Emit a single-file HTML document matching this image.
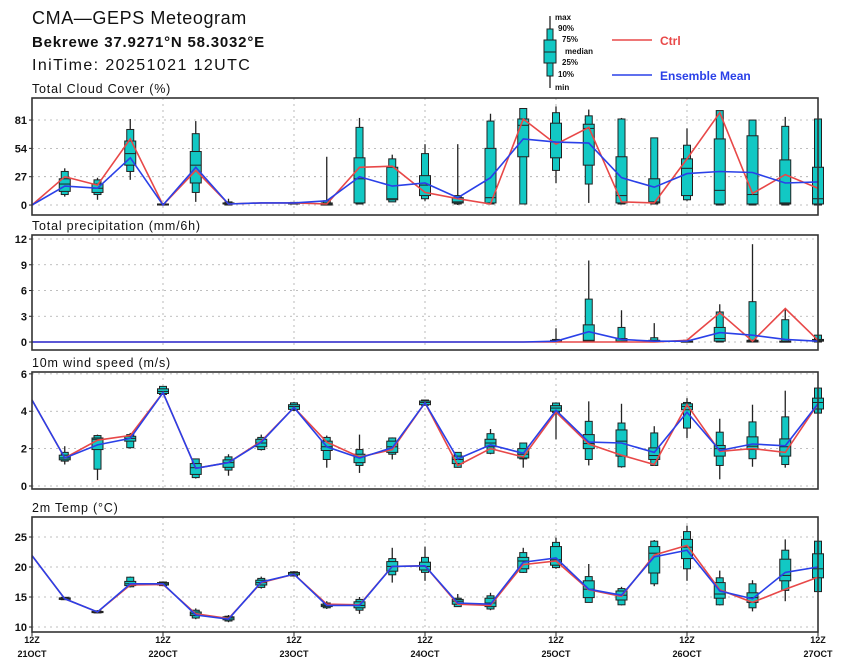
<!DOCTYPE html>
<html><head><meta charset="utf-8"><style>
html,body{margin:0;padding:0;background:#fff;}
svg{display:block;font-family:"Liberation Sans","DejaVu Sans",sans-serif;}
</style></head><body>
<svg id="chart" width="844" height="667" viewBox="0 0 844 667" xmlns="http://www.w3.org/2000/svg">
<text x="32" y="24" font-size="18" letter-spacing="0.6" fill="#111">CMA—GEPS Meteogram</text>
<text x="32" y="47" font-size="15" fill="#111" font-weight="bold" letter-spacing="0.8">Bekrewe 37.9271°N 58.3032°E</text>
<text x="32" y="70" font-size="16" fill="#111" letter-spacing="1.4">IniTime: 20251021 12UTC</text>
<g>
<g>
<line x1="550" y1="16" x2="550" y2="88" stroke="#222" stroke-width="1.3"/>
<rect x="547" y="29" width="6" height="47" fill="#12c8c4" stroke="#222"/>
<rect x="544" y="40" width="12" height="23" fill="#12c8c4" stroke="#222"/>
<line x1="544" y1="52" x2="556" y2="52" stroke="#222"/>
</g>
<g font-size="8" font-weight="bold" fill="#111">
<text x="555" y="20">max</text><text x="558" y="31">90%</text><text x="562" y="42">75%</text>
<text x="565" y="54">median</text><text x="562" y="65">25%</text><text x="558" y="77">10%</text><text x="555" y="90">min</text>
</g>
<line x1="612" y1="40" x2="652" y2="40" stroke="#e84848" stroke-width="1.5"/>
<text x="660" y="45" font-size="12" font-weight="bold" fill="#e84848">Ctrl</text>
<line x1="612" y1="75" x2="652" y2="75" stroke="#2a40e8" stroke-width="1.5"/>
<text x="660" y="80" font-size="12" font-weight="bold" fill="#2a40e8">Ensemble Mean</text>
</g>
</svg>
<script>
// Time axis
const steps = 25;
const dayLabelsTop = ["12Z","12Z","12Z","12Z","12Z","12Z","12Z"];
const dayLabelsBottom = ["21OCT","22OCT","23OCT","24OCT","25OCT","26OCT","27OCT"];

// Total cloud cover (%)
const cloudTicks = [0,27,54,81];
const cloudMin = [null,8,5,24,0,3,0,null,1,0,1,3,4,0,1,1,21,2,1,1,4,0,0,0,0];
const cloudP10 = [null,10,10,32,0,12,0,null,1,0,1,3,6,1,1,1,33,20,1,1,5,0,0,0,0];
const cloudP25 = [null,13,12,38,0,21,1,null,1.5,0,2,5,9,2,2,46,45,38,2,2,9,1,1,1,1];
const cloudMed = [null,20,16,49,0.5,38,1,null,2,1,25,6,19,3,7,76,60,73,9,3,35,14,10,2,6];
const cloudP75 = [null,25,20,61,1,51,2,null,2,2,45,36,28,7,54,82,78,77,46,25,44,63,66,43,36];
const cloudP90 = [null,32,24,72,1,68,3,null,2.5,4,74,44,49,9,80,92,88,85,82,64,57,90,81,75,82];
const cloudMax = [null,35,26,82,2,80,6,null,3,46,83,48,58,58,87,92,94,91,83,64,73,90,81,84,82];
const cloudCtrl = [0,27,19,63,0,33,1,2,2,1,36,37,12,6,1,82,58,74,3,2,44,88,11,29,16];
const cloudMean = [0,18,16,45,0,36,1,2,2,4,27,18,21,7,26,63,60,59,26,17,30,32,31,21,22];

// Total precipitation (mm/6h)
const precTicks = [0,3,6,9,12];
const precMin = [null,null,null,null,null,null,null,null,null,null,null,null,null,null,null,null,0,0,0,0,0,0,0,0,0];
const precP10 = [null,null,null,null,null,null,null,null,null,null,null,null,null,null,null,null,0,0,0,0,0,0,0,0,0];
const precP25 = [null,null,null,null,null,null,null,null,null,null,null,null,null,null,null,null,0,0.1,0,0,0,0.1,0,0,0.1];
const precMed = [null,null,null,null,null,null,null,null,null,null,null,null,null,null,null,null,0.1,0.2,0.1,0,0,0.4,0.1,0,0.2];
const precP75 = [null,null,null,null,null,null,null,null,null,null,null,null,null,null,null,null,0.2,2.0,0.4,0.2,0.1,1.7,0.2,0.1,0.3];
const precP90 = [null,null,null,null,null,null,null,null,null,null,null,null,null,null,null,null,0.3,5.0,1.7,0.5,0.2,3.5,4.7,2.6,0.8];
const precMax = [null,null,null,null,null,null,null,null,null,null,null,null,null,null,null,null,1.6,9.5,3.7,2.2,0.3,4.4,11.4,3.8,0.8];
const precCtrl = [0,0,0,0,0,0,0,0,0,0,0,0,0,0,0,0,0,0,0,0,0.2,3.4,0.1,3.9,0.2];
const precMean = [0,0,0,0,0,0,0,0,0,0,0,0,0,0,0,0,0.1,1.2,0.3,0.1,0.1,1.1,0.8,0.3,0.1];

// 10m wind speed (m/s)
const windTicks = [0,2,4,6];
const windMin = [null,1.15,0.32,2.0,4.9,0.4,0.55,1.9,4.0,0.98,0.7,1.42,4.3,0.98,1.7,0.98,2.5,1.1,0.98,1.1,2.57,0.36,1.03,0.98,3.9];
const windP10 = [null,1.33,0.9,2.05,4.9,0.45,0.85,1.95,4.05,1.42,1.1,1.7,4.32,1.0,1.75,1.45,3.94,1.42,1.03,1.1,3.1,1.1,1.46,1.15,3.9];
const windP25 = [null,1.4,1.95,2.4,4.95,0.62,1.0,2.1,4.1,1.9,1.25,1.8,4.35,1.2,2.1,1.5,4.0,2.0,1.6,1.42,4.08,1.6,1.95,1.6,4.12];
const windMed = [null,1.5,2.5,2.55,5.06,0.98,1.25,2.3,4.25,2.1,1.56,2.1,4.47,1.42,2.3,1.7,4.17,2.27,2.4,1.63,4.26,2.0,2.13,2.1,4.47];
const windP75 = [null,1.65,2.57,2.66,5.2,1.2,1.4,2.5,4.35,2.4,1.7,2.4,4.55,1.6,2.5,2.0,4.3,2.75,3.0,2.04,4.4,2.17,2.63,2.52,4.7];
const windP90 = [null,1.8,2.7,2.75,5.33,1.45,1.56,2.6,4.45,2.6,1.95,2.57,4.6,1.8,2.8,2.3,4.44,3.46,3.37,2.84,4.47,2.88,3.43,3.7,5.24];
const windMax = [null,2.13,2.75,2.84,5.35,1.45,1.7,2.75,4.5,2.7,2.75,2.6,4.6,1.8,3.05,2.3,4.47,4.53,4.4,3.2,4.7,3.6,4.35,5.1,5.3];
const windCtrl = [4.6,1.5,2.45,2.7,5.0,0.95,1.25,2.4,4.2,2.35,1.55,1.95,4.45,1.1,2.0,1.55,3.95,2.25,1.65,1.15,4.35,1.85,2.0,1.8,4.4];
const windMean = [4.6,1.5,2.2,2.55,5.0,0.95,1.25,2.35,4.2,2.1,1.5,2.05,4.45,1.45,2.2,1.75,4.05,2.35,2.3,1.8,3.95,1.9,2.25,2.15,4.4];

// 2m temperature (°C)
const tempTicks = [10,15,20,25];
const tempMin = [null,14.5,12.3,16.6,16.8,11.3,10.8,16.4,18.4,13.0,12.2,17.4,17.7,13.4,12.8,19.0,19.7,14.1,13.6,16.8,17.7,13.6,12.6,14.3,15.9];
const tempP10 = [null,14.55,12.35,16.7,16.9,11.5,11.0,16.6,18.5,13.2,12.8,18.7,19.1,13.4,13.0,19.1,19.9,14.1,13.7,17.2,19.7,13.7,13.2,16.1,15.9];
const tempP25 = [null,14.6,12.4,16.9,17.0,11.9,11.2,17.0,18.7,13.4,13.2,19.3,19.5,13.8,13.4,19.7,20.3,14.9,14.5,19.0,21.4,14.8,14.1,17.7,18.2];
const tempMed = [null,14.7,12.5,17.2,17.2,12.2,11.5,17.4,19.0,13.6,13.6,20.1,20.1,14.3,14.0,21.0,21.2,16.3,15.3,22.3,23.3,15.5,14.9,18.6,19.7];
const tempP75 = [null,14.85,12.6,17.6,17.4,12.5,11.7,17.8,19.1,13.8,14.2,20.9,20.8,14.6,14.8,21.6,23.4,17.7,16.0,23.4,24.6,17.4,15.7,21.3,22.2];
const tempP90 = [null,14.95,12.7,18.3,17.5,12.8,11.8,18.1,19.2,14.0,14.6,21.4,21.6,14.8,15.2,22.4,24.1,18.4,16.4,24.3,25.9,18.2,17.2,22.8,24.3];
const tempMax = [null,15.0,12.8,18.4,17.6,13.1,12.0,18.4,19.3,14.3,15.0,23.2,23.4,15.5,15.7,23.2,24.9,20.5,16.7,24.5,26.9,19.4,17.8,24.6,24.3];
const tempCtrl = [21.9,14.7,12.5,17.0,17.1,12.2,11.4,17.4,18.8,13.8,13.7,20.1,20.2,13.8,13.6,20.4,21.0,16.2,15.1,22.0,23.6,16.2,14.1,16.3,18.3];
const tempMean = [21.9,14.7,12.5,17.2,17.2,12.0,11.3,17.5,18.8,13.6,13.6,20.1,20.2,14.0,13.8,20.8,21.5,16.3,15.3,21.7,22.8,16.0,14.7,19.1,20.0];

const NS = "http://www.w3.org/2000/svg";
const svg = document.getElementById("chart");
const X0 = 32, X1 = 818;
function xScale(i){ return X0 + i * (X1 - X0) / (steps - 1); }
function mk(tag, attrs, parent){
  const e = document.createElementNS(NS, tag);
  for (const k in attrs) e.setAttribute(k, attrs[k]);
  (parent || svg).appendChild(e);
  return e;
}

const panels = [
  {key:"cloud", title:"Total Cloud Cover (%)", top:98, bottom:215, vTop:102, vBot:-9.5, ticks:cloudTicks,
   mn:cloudMin,p10:cloudP10,p25:cloudP25,md:cloudMed,p75:cloudP75,p90:cloudP90,mx:cloudMax,ctrl:cloudCtrl,mean:cloudMean},
  {key:"precip", title:"Total precipitation (mm/6h)", top:235, bottom:350, vTop:12.47, vBot:-0.93, ticks:precTicks,
   mn:precMin,p10:precP10,p25:precP25,md:precMed,p75:precP75,p90:precP90,mx:precMax,ctrl:precCtrl,mean:precMean},
  {key:"wind", title:"10m wind speed (m/s)", top:372, bottom:489, vTop:6.1, vBot:-0.16, ticks:windTicks,
   mn:windMin,p10:windP10,p25:windP25,md:windMed,p75:windP75,p90:windP90,mx:windMax,ctrl:windCtrl,mean:windMean},
  {key:"temp", title:"2m Temp (°C)", top:517, bottom:632, vTop:28.33, vBot:9.17, ticks:tempTicks,
   mn:tempMin,p10:tempP10,p25:tempP25,md:tempMed,p75:tempP75,p90:tempP90,mx:tempMax,ctrl:tempCtrl,mean:tempMean}
];

panels.forEach(p => {
  const y = v => p.top + (p.vTop - v) * (p.bottom - p.top) / (p.vTop - p.vBot);
  const g = mk("g", {});
  
  
  const t = mk("text", {x:32, y:p.top - 5, "font-size":12.5, "letter-spacing":0.8, fill:"#111"}, g);
  t.textContent = p.title;
  
  
  p.ticks.forEach(v => {
    const gl = mk("line", {x1:X0, x2:X1, y1:y(v), y2:y(v), stroke:"#aaa", "stroke-width":0.8, "stroke-dasharray":"2,4"}, g);
    
    
    const tl = mk("text", {x:27, y:y(v) + 4, "font-size":11, "font-weight":"bold", "text-anchor":"end", fill:"#111"}, g);
    tl.textContent = v;
    
    
    mk("line", {x1:X0 - 3, x2:X0, y1:y(v), y2:y(v), stroke:"#222"}, g);
  });
  for (let d = 1; d < 6; d++) {
    const vx = xScale(d * 4);
    const vl = mk("line", {x1:vx, x2:vx, y1:p.top, y2:p.bottom, stroke:"#aaa", "stroke-width":0.8, "stroke-dasharray":"2,4"}, g);
    
    
  }
  for (let i = 0; i < steps; i++) {
    if (p.mn[i] === null) continue;
    const cx = xScale(i);
    const bg = mk("g", {}, g);
    
    
    mk("line", {x1:cx, x2:cx, y1:y(p.mx[i]), y2:y(p.mn[i]), stroke:"#222", "stroke-width":1.3}, bg);
    mk("rect", {x:cx - 3.5, y:y(p.p90[i]), width:7, height:Math.max(1, y(p.p10[i]) - y(p.p90[i])), fill:"#12c8c4", stroke:"#222", "stroke-width":1}, bg);
    mk("rect", {x:cx - 5.5, y:y(p.p75[i]), width:11, height:Math.max(1, y(p.p25[i]) - y(p.p75[i])), fill:"#12c8c4", stroke:"#222", "stroke-width":1}, bg);
    mk("line", {x1:cx - 5.5, x2:cx + 5.5, y1:y(p.md[i]), y2:y(p.md[i]), stroke:"#222", "stroke-width":1}, bg);
  }
  const line = (arr, col, name) => {
    const pts = arr.map((v, i) => xScale(i).toFixed(1) + "," + y(v).toFixed(1)).join(" ");
    const pl = mk("polyline", {points:pts, fill:"none", stroke:col, "stroke-width":1.6}, g);
    
    
  };
  line(p.ctrl, "#e84848", p.key + '-ctrl-line');
  line(p.mean, "#2a40e8", p.key + '-mean-line');
  const fr = mk("rect", {x:X0, y:p.top, width:X1 - X0, height:p.bottom - p.top, fill:"none", stroke:"#333", "stroke-width":1.6}, g);
  
  
});

for (let d = 0; d < 7; d++) {
  const lx = xScale(d * 4);
  mk("line", {x1:lx, x2:lx, y1:632, y2:636, stroke:"#222"});
  const a = mk("text", {x:lx, y:643, "font-size":9, "font-weight":"bold", "text-anchor":"middle", fill:"#111"});
  a.textContent = dayLabelsTop[d];
  
  
  const b = mk("text", {x:lx, y:657, "font-size":9, "font-weight":"bold", "text-anchor":"middle", fill:"#111"});
  b.textContent = dayLabelsBottom[d];
  
  
}
</script>
</body></html>
